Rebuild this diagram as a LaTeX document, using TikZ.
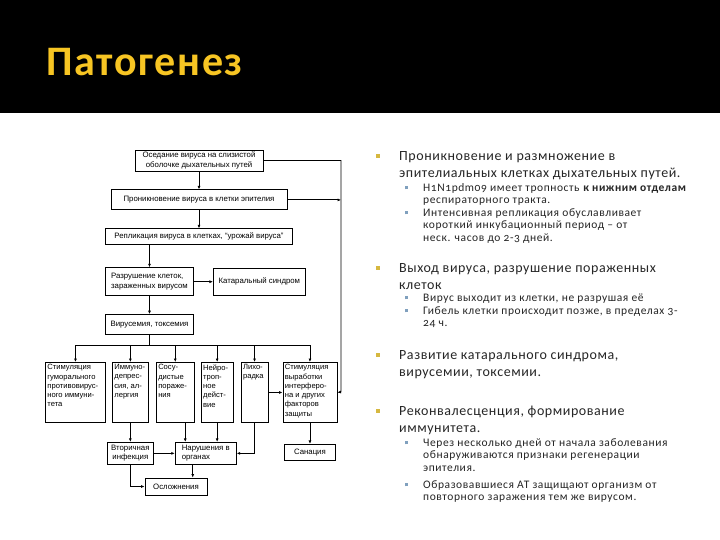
\documentclass[tikz,border=0pt]{standalone}
\usepackage{fontspec}
\setmainfont{Carlito}[Numbers=OldStyle]
\newfontfamily\schemefont{Liberation Sans}
\usepackage{xcolor}
\usepackage{tikz}
\usetikzlibrary{arrows.meta,positioning}
\definecolor{titlegold}{RGB}{247,197,35}
\definecolor{markgold}{RGB}{214,184,64}
\definecolor{markblue}{RGB}{128,160,190}
\definecolor{bodygray}{RGB}{38,38,38}
\tikzset{
    schemebox/.style={draw, line width=0.9pt, inner sep=2pt, font=\schemefont\fontsize{7.8}{9.2}\selectfont, align=center},
    leftbox/.style={schemebox, align=left},
    colbox/.style={schemebox, align=left, font=\schemefont\fontsize{7.6}{9.3}\selectfont},
    schemearrow/.style={-{Latex[length=3.5pt,width=3pt]}, line width=0.8pt},
    schemeline/.style={line width=0.8pt},
    pointone/.style={anchor=north west, inner sep=0pt, align=left, text=bodygray, font=\addfontfeatures{LetterSpace=4}\fontsize{14}{17}\selectfont},
    pointtwo/.style={pointone, font=\addfontfeatures{LetterSpace=5}\fontsize{11.5}{12.5}\selectfont}
}
\newcommand{\colpar}[2]{\parbox[t][56pt][t]{#1}{\raggedright #2}}
\newcommand{\goldmark}{\strut\llap{\textcolor{markgold}{\rule[2.5pt]{4pt}{4pt}}\hspace{19pt}}}
\newcommand{\bluemark}{\strut\llap{\textcolor{markblue}{\rule[2pt]{3.5pt}{3.5pt}}\hspace{15pt}}}

\begin{document}
\begin{tikzpicture}[x=1pt, y=-1pt]
    \useasboundingbox (0,0) rectangle (720,540);
    \fill[white] (0,0) rectangle (720,540);
    \fill[black] (0,0) rectangle (720,113);
    \node[anchor=base west, inner sep=0pt, text=titlegold, font=\bfseries\addfontfeatures{LetterSpace=4}\fontsize{42}{50}\selectfont] (title) at (46,76) {Патогенез};

    % scheme
    \node[schemebox, minimum width=128pt, minimum height=21pt] (seat) at (199,160.5) {Оседание вируса на слизистой\\оболочке дыхательных путей};
    \node[schemebox, minimum width=176pt, minimum height=20pt, below=18pt of seat] (pron) {Проникновение вируса в клетки эпителия};
    \node[schemebox, minimum width=187pt, minimum height=16pt, below=18pt of pron] (repl) {Репликация вируса в клетках, “урожай вируса”};
    \node[leftbox, minimum width=88pt, minimum height=28pt, below=22pt of repl.south west, anchor=north west] (destr) {Разрушение клеток,\\зараженных вирусом};
    \node[schemebox, minimum width=92pt, minimum height=27pt, right=19pt of destr] (catar) {Катаральный синдром};
    \node[schemebox, minimum width=88pt, minimum height=20pt, below=18pt of destr] (viraem) {Вирусемия, токсемия};

    \node[colbox, anchor=north west] (humor) at (45,362) {\colpar{56pt}{Стимуляция\\гуморального\\противовирус-\\ного иммуни-\\тета}};
    \node[colbox, right=6pt of humor] (immun) {\colpar{32pt}{Иммуно-\\депрес-\\сия, ал-\\лергия}};
    \node[colbox, right=7pt of immun] (vasc) {\colpar{34pt}{Сосу-\\дистые\\пораже-\\ния}};
    \node[colbox, right=6pt of vasc] (neuro) {\colpar{28pt}{Нейро-\\троп-\\ное\\дейст-\\вие}};
    \node[colbox, right=7pt of neuro] (fever) {\colpar{23pt}{Лихо-\\радка}};
    \node[colbox, right=14pt of fever] (interf) {\colpar{50pt}{Стимуляция\\выработки\\интерферо-\\на и других\\факторов\\защиты}};

    \node[schemebox, minimum width=46pt, minimum height=22pt, below=19pt of immun] (sec) {Вторичная\\инфекция};
    \node[leftbox, minimum width=61pt, minimum height=22pt, right=21pt of sec] (org) {Нарушения в\\органах};
    \node[schemebox, minimum width=51pt, minimum height=16pt, below=21pt of interf] (san) {Санация};
    \node[schemebox, minimum width=62pt, minimum height=17pt] (compl) at (176,486.5) {Осложнения};

    \coordinate (bus) at (0,345);
    \coordinate (rail) at (341,392);

    \draw[schemearrow] (seat.south) -- (seat.south |- pron.north);
    \draw[schemearrow] (pron.south) -- (pron.south |- repl.north);
    \draw[schemearrow] (destr.north |- repl.south) -- (destr.north);
    \draw[schemearrow] (destr.east) -- (catar.west);
    \draw[schemearrow] (destr.south) -- (viraem.north);
    \draw[schemeline] (viraem.south) -- (viraem.south |- bus);
    \draw[schemeline] (humor.north |- bus) -- (interf.north |- bus);
    \foreach \n in {humor,immun,vasc,neuro,fever,interf}
        \draw[schemearrow] (\n.north |- bus) -- (\n.north);

    \draw[schemearrow] (seat.east) -| (rail) -- (interf.east);
    \draw[schemearrow] (pron.east) -- (pron.east -| rail);
    \draw[schemearrow] (fever.east) -- (fever.east -| interf.west);

    \draw[schemearrow] (immun.south) -- (sec.north);
    \draw[schemearrow] ([xshift=10pt]vasc.south) -- ([xshift=10pt]vasc.south |- org.north);
    \draw[schemearrow] (neuro.south) -- (neuro.south |- org.north);
    \draw[schemearrow] (fever.south) |- (org.east);
    \draw[schemearrow] (sec.east) -- (sec.east -| org.west);
    \draw[schemearrow] ([xshift=-13pt]org.south) -- ([xshift=-13pt]org.south |- compl.north);
    \draw[schemearrow] (sec.south) |- (compl.west);
    \draw[schemearrow] (interf.south) -- (san.north);

    % text column
    \node[pointone] (pen) at (399,148) {\goldmark Проникновение и размножение в\\эпителиальных клетках дыхательных путей.};
    \node[pointtwo] (trop) at (423,182.5) {\bluemark H1N1pdm09 имеет тропность \textbf{к нижним отделам}\\респираторного тракта.};
    \node[pointtwo] (incub) at (423,207.5) {\bluemark Интенсивная репликация обуславливает\\короткий инкубационный период – от\\неск. часов до 2-3 дней.};
    \node[pointone] (exit) at (399,260) {\goldmark Выход вируса, разрушение пораженных\\клеток};
    \node[pointtwo] (leave) at (423,292.5) {\bluemark Вирус выходит из клетки, не разрушая её};
    \node[pointtwo] (death) at (423,305.5) {\bluemark Гибель клетки происходит позже, в пределах 3-\\24 ч.};
    \node[pointone] (devel) at (399,347) {\goldmark Развитие катарального синдрома,\\вирусемии, токсемии.};
    \node[pointone] (recov) at (399,403) {\goldmark Реконвалесценция, формирование\\иммунитета.};
    \node[pointtwo] (regen) at (423,437.5) {\bluemark Через несколько дней от начала заболевания\\обнаруживаются признаки регенерации\\эпителия.};
    \node[pointtwo] (anti) at (423,479.5) {\bluemark Образовавшиеся АТ защищают организм от\\повторного заражения тем же вирусом.};
\end{tikzpicture}
\end{document}
